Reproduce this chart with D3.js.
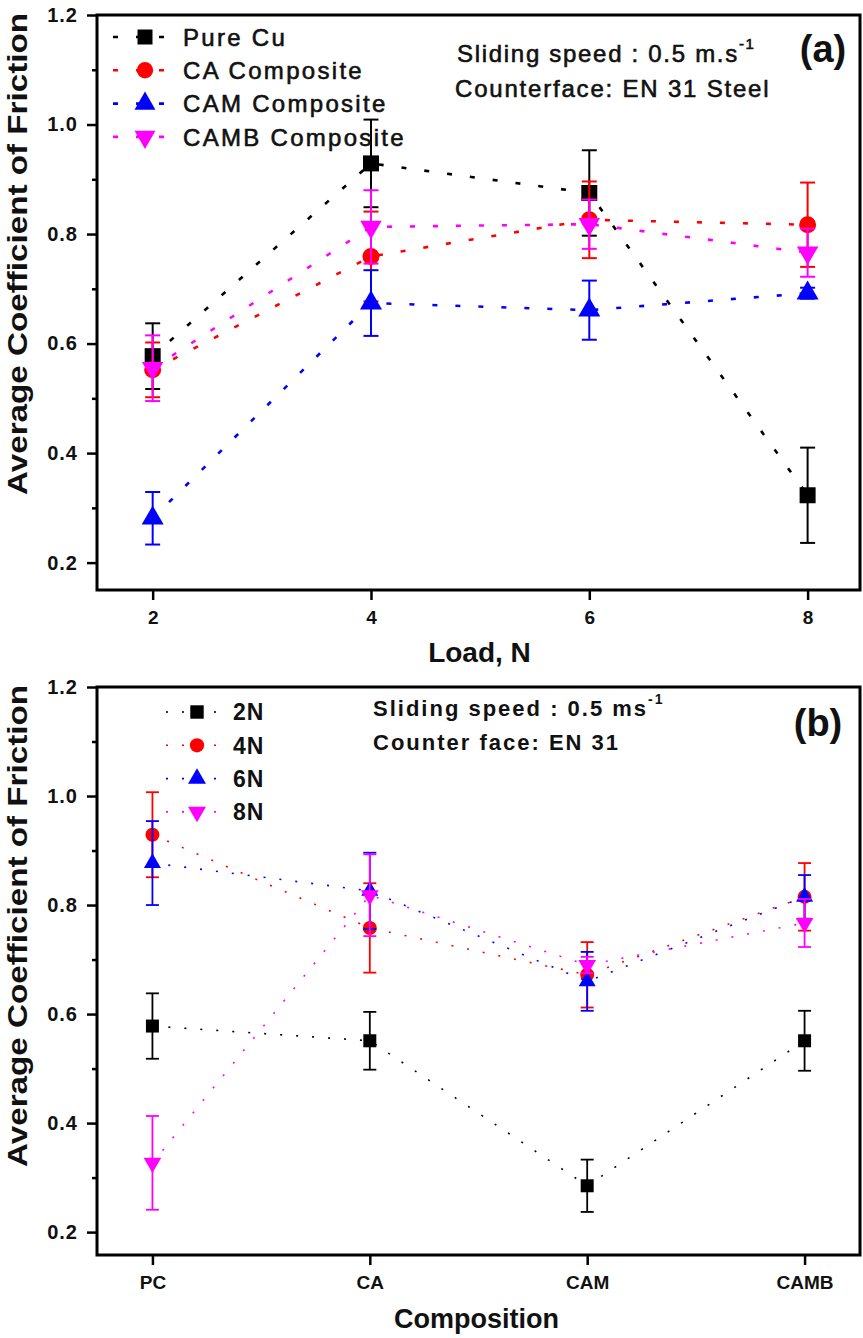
<!DOCTYPE html>
<html>
<head>
<meta charset="utf-8">
<script src="https://cdn.jsdelivr.net/npm/d3@7"></script>
<style>
  body { margin: 0; background: #fff; }
  text { font-family: "Liberation Sans", Arial, sans-serif; fill: #111; }
</style>
</head>
<body>
<div id="canvas"></div>
<script>
// panel (a) - friction vs load
const loads = [2, 4, 6, 8];
const loadSeries = ["Pure Cu", "CA Composite", "CAM Composite", "CAMB Composite"];
const pureCu = [0.577, 0.929, 0.875, 0.323];
const pureCuErr = [0.06, 0.08, 0.078, 0.087];
const caComp = [0.552, 0.759, 0.826, 0.817];
const caCompErr = [0.05, 0.082, 0.07, 0.077];
const camComp = [0.281, 0.674, 0.661, 0.692];
const camCompErr = [0.048, 0.06, 0.054, 0.01];
const cambComp = [0.555, 0.813, 0.818, 0.766];
const cambCompErr = [0.06, 0.067, 0.045, 0.044];

// panel (b) - friction vs composition
const compositions = ["PC", "CA", "CAM", "CAMB"];
const compSeries = ["2N", "4N", "6N", "8N"];
const load2N = [0.578, 0.551, 0.285, 0.551];
const load2NErr = [0.06, 0.053, 0.048, 0.055];
const load4N = [0.929, 0.758, 0.672, 0.815];
const load4NErr = [0.078, 0.082, 0.06, 0.062];
const load6N = [0.877, 0.826, 0.66, 0.815];
const load6NErr = [0.077, 0.07, 0.054, 0.04];
const load8N = [0.327, 0.818, 0.69, 0.767];
const load8NErr = [0.086, 0.075, 0.015, 0.044];

const yTicks = [0.2, 0.4, 0.6, 0.8, 1.0, 1.2];
const yMinorTicks = [0.3, 0.5, 0.7, 0.9, 1.1];

const colors = ["#000000", "#ff0000", "#0000ff", "#ff00ff"];
const shapes = [d3.symbolSquare, d3.symbolCircle, d3.symbolTriangle, d3.symbolTriangle];
const flipped = [false, false, false, true];

const W = 863, H = 1338;
const left = 97, right = 860;

const svg = d3.select("#canvas")
  .append("svg")
  .attr("width", W)
  .attr("height", H);

function styleAxis(ax, fontSize) {
  ax.select(".domain").remove();
  ax.selectAll(".tick line").attr("stroke", "#000").attr("stroke-width", 2.5);
  ax.selectAll(".tick text")
    .style("font-size", fontSize + "px")
    .style("font-weight", "bold")
    .attr("fill", "#222");
}

function drawAxes(x, y, top, bottom, xTicks, xFormat) {
  const xa = svg.append("g")
    .attr("transform", `translate(0,${bottom})`)
    .call(d3.axisBottom(x).tickValues(xTicks).tickSize(10).tickPadding(11).tickFormat(xFormat));
  styleAxis(xa, 19);

  const ya = svg.append("g")
    .attr("transform", `translate(${left},0)`)
    .call(d3.axisLeft(y).tickValues(yTicks).tickSize(10).tickPadding(9).tickFormat(d3.format(".1f")));
  styleAxis(ya, 20);
  ya.selectAll(".tick text").style("letter-spacing", "1px");

  const ym = svg.append("g")
    .attr("transform", `translate(${left},0)`)
    .call(d3.axisLeft(y).tickValues(yMinorTicks).tickSize(5).tickFormat(""));
  styleAxis(ym, 20);

  // frame
  svg.append("rect")
    .attr("x", left)
    .attr("y", top)
    .attr("width", right - left)
    .attr("height", bottom - top)
    .attr("fill", "none")
    .attr("stroke", "#000")
    .attr("stroke-width", 3);

  svg.append("text")
    .attr("transform", `translate(27,${top + 239}) rotate(-90)`)
    .attr("text-anchor", "middle")
    .attr("textLength", 482)
    .attr("lengthAdjust", "spacingAndGlyphs")
    .style("font-size", "27px")
    .style("font-weight", "bold")
    .text("Average Coefficient of Friction");
}

function drawSeries(x, y, cats, vals, errs, i, opt) {
  const pts = cats.map((c, k) => ({ c: c, v: vals[k], e: errs[k] }));
  const g = svg.append("g");

  g.append("path")
    .datum(pts)
    .attr("fill", "none")
    .attr("stroke", colors[i])
    .attr("stroke-width", opt.lineWidth)
    .attr("stroke-dasharray", opt.dash)
    .attr("d", d3.line().x(d => x(d.c)).y(d => y(d.v)));

  // error bars
  const eb = g.selectAll(".err")
    .data(pts)
    .enter().append("g")
    .attr("stroke", colors[i])
    .attr("stroke-width", opt.errWidth);
  eb.append("line")
    .attr("x1", d => x(d.c)).attr("x2", d => x(d.c))
    .attr("y1", d => y(d.v - d.e)).attr("y2", d => y(d.v + d.e));
  eb.append("line")
    .attr("x1", d => x(d.c) - opt.cap).attr("x2", d => x(d.c) + opt.cap)
    .attr("y1", d => y(d.v + d.e)).attr("y2", d => y(d.v + d.e));
  eb.append("line")
    .attr("x1", d => x(d.c) - opt.cap).attr("x2", d => x(d.c) + opt.cap)
    .attr("y1", d => y(d.v - d.e)).attr("y2", d => y(d.v - d.e));

  g.selectAll(".mark")
    .data(pts)
    .enter().append("path")
    .attr("d", d3.symbol().type(shapes[i]).size(opt.sizes[i]))
    .attr("transform", d => `translate(${x(d.c)},${y(d.v)})` + (flipped[i] ? " rotate(180)" : ""))
    .attr("fill", colors[i]);
}

function drawLegend(names, x0, y0, dy, textX, opt) {
  names.forEach((name, i) => {
    const yy = y0 + i * dy;
    svg.append("line")
      .attr("x1", x0).attr("x2", x0 + opt.len)
      .attr("y1", yy).attr("y2", yy)
      .attr("stroke", colors[i])
      .attr("stroke-width", opt.lineWidth)
      .attr("stroke-dasharray", opt.dash);
    svg.append("path")
      .attr("d", d3.symbol().type(shapes[i]).size(opt.sizes[i]))
      .attr("transform", `translate(${x0 + opt.markAt},${yy})` + (flipped[i] ? " rotate(180)" : ""))
      .attr("fill", colors[i]);
    svg.append("text")
      .attr("x", textX)
      .attr("y", yy)
      .attr("dy", "0.36em")
      .style("font-size", opt.fontSize + "px")
      .style("font-weight", opt.weight)
      .style("letter-spacing", opt.spacing + "px")
      .attr("stroke", "#111")
      .attr("stroke-width", opt.weight === "bold" ? 0 : 0.6)
      .text(name);
  });
}

// ---------- panel (a)
const topA = 15, bottomA = 590;
const xA = d3.scaleLinear().domain([1.49, 8.48]).range([left, right]);
const yA = d3.scaleLinear().domain([0.15, 1.2]).range([bottomA, topA]);

drawAxes(xA, yA, topA, bottomA, loads, d3.format("d"));

const optA = { lineWidth: 2.6, dash: "5,18", errWidth: 2, cap: 7.5, sizes: [256, 227, 210, 200] };
drawSeries(xA, yA, loads, pureCu, pureCuErr, 0, optA);
drawSeries(xA, yA, loads, caComp, caCompErr, 1, optA);
drawSeries(xA, yA, loads, camComp, camCompErr, 2, optA);
drawSeries(xA, yA, loads, cambComp, cambCompErr, 3, optA);

drawLegend(loadSeries, 113, 37, 33.3, 183,
  { len: 64, markAt: 32, lineWidth: 2.6, dash: "5,18", sizes: [225, 210, 190, 190],
    fontSize: 24, weight: "normal", spacing: 2.3 });

svg.append("text")
  .attr("x", (left + right) / 2 + 1)
  .attr("y", 652)
  .attr("dy", "0.36em")
  .attr("text-anchor", "middle")
  .style("font-size", "28px")
  .style("font-weight", "bold")
  .text("Load, N");

const noteA = svg.append("text")
  .attr("x", 457)
  .attr("y", 62)
  .style("font-size", "24px")
  .style("letter-spacing", "1.7px")
  .attr("stroke", "#111")
  .attr("stroke-width", 0.6);
noteA.append("tspan").text("Sliding speed : 0.5 m.s");
noteA.append("tspan").attr("dy", -13).style("font-size", "15px").text("-1");

svg.append("text")
  .attr("x", 455)
  .attr("y", 97)
  .style("font-size", "24px")
  .style("letter-spacing", "1.8px")
  .attr("stroke", "#111")
  .attr("stroke-width", 0.6)
  .text("Counterface: EN 31 Steel");

svg.append("text")
  .attr("x", 823)
  .attr("y", 48)
  .attr("dy", "0.36em")
  .attr("text-anchor", "middle")
  .style("font-size", "38px")
  .style("font-weight", "bold")
  .text("(a)");

// ---------- panel (b)
const topB = 687, bottomB = 1255;
const xB = d3.scalePoint().domain(compositions).range([left, right]).padding(0.255);
const yB = d3.scaleLinear().domain([0.158, 1.2]).range([bottomB, topB]);

drawAxes(xB, yB, topB, bottomB, compositions, d => d);

const optB = { lineWidth: 1.6, dash: "2,14", errWidth: 1.8, cap: 6.5, sizes: [169, 154, 125, 135] };
drawSeries(xB, yB, compositions, load2N, load2NErr, 0, optB);
drawSeries(xB, yB, compositions, load4N, load4NErr, 1, optB);
drawSeries(xB, yB, compositions, load6N, load6NErr, 2, optB);
drawSeries(xB, yB, compositions, load8N, load8NErr, 3, optB);

drawLegend(compSeries, 166, 712, 33.3, 233,
  { len: 52, markAt: 31, lineWidth: 1.6, dash: "2,14", sizes: [180, 160, 140, 140],
    fontSize: 23, weight: "bold", spacing: 1 });

svg.append("text")
  .attr("x", (left + right) / 2 - 2)
  .attr("y", 1318)
  .attr("dy", "0.36em")
  .attr("text-anchor", "middle")
  .style("font-size", "27px")
  .style("font-weight", "bold")
  .text("Composition");

const noteB = svg.append("text")
  .attr("x", 373)
  .attr("y", 716)
  .style("font-size", "22px")
  .style("font-weight", "bold")
  .style("letter-spacing", "2px")
  .attr("fill", "#222");
noteB.append("tspan").text("Sliding speed : 0.5 ms");
noteB.append("tspan").attr("dy", -12).style("font-size", "14px").text("-1");

svg.append("text")
  .attr("x", 373)
  .attr("y", 750)
  .style("font-size", "22px")
  .style("font-weight", "bold")
  .style("letter-spacing", "2px")
  .attr("fill", "#222")
  .text("Counter face: EN 31");

svg.append("text")
  .attr("x", 818)
  .attr("y", 722)
  .attr("dy", "0.36em")
  .attr("text-anchor", "middle")
  .style("font-size", "38px")
  .style("font-weight", "bold")
  .text("(b)");
</script>
</body>
</html>
